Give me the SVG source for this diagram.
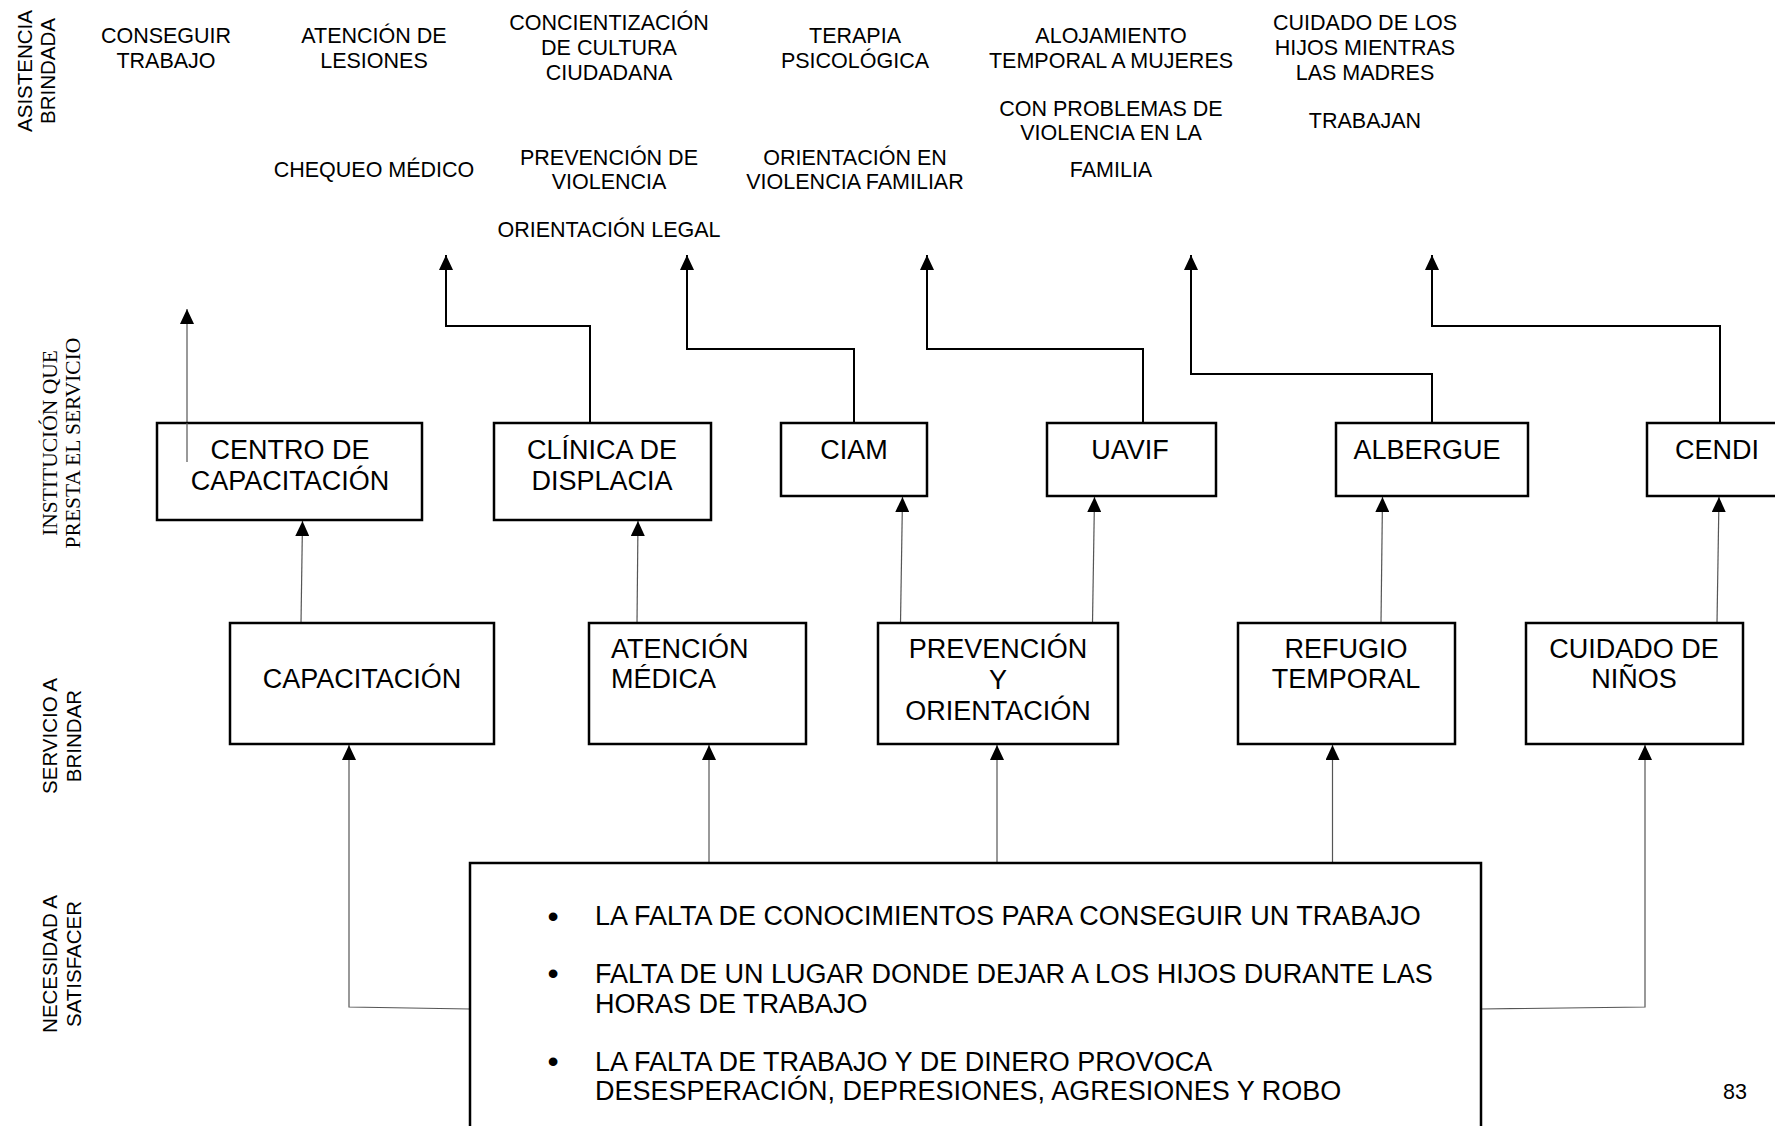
<svg xmlns="http://www.w3.org/2000/svg" width="1775" height="1126" viewBox="0 0 1775 1126">
<defs>
<style>
text{font-family:"Liberation Sans",Arial,sans-serif;fill:#000}
.t{font-size:21.5px;text-anchor:middle}
.side{font-size:20.5px;text-anchor:middle}
.serif{font-family:"Liberation Serif","Times New Roman",serif;font-size:21.5px;text-anchor:middle}
.bt{font-size:27px;text-anchor:middle}
.bl{font-size:27px}
.bul{font-size:32px;text-anchor:middle}
.bx{fill:#fff;stroke:#000;stroke-width:2.5}
.thin{fill:none;stroke:#555;stroke-width:1.2}
.thick{fill:none;stroke:#000;stroke-width:2}
</style>
<marker id="ah" markerUnits="userSpaceOnUse" viewBox="0 0 15 14" markerWidth="15" markerHeight="14" refX="15" refY="7" orient="auto">
<path d="M0,0 L15,7 L0,14 z" fill="#000"/>
</marker>
</defs>
<rect width="1775" height="1126" fill="#fff"/>

<g id="row-labels">
<text class="side" transform="translate(32,71) rotate(-90)"><tspan x="0" y="0">ASISTENCIA</tspan><tspan x="0" y="23">BRINDADA</tspan></text>
<text class="serif" transform="translate(57,443) rotate(-90)"><tspan x="0" y="0">INSTITUCIÓN QUE</tspan><tspan x="0" y="23">PRESTA EL SERVICIO</tspan></text>
<text class="side" transform="translate(57,736) rotate(-90)"><tspan x="0" y="0">SERVICIO A</tspan><tspan x="0" y="24">BRINDAR</tspan></text>
<text class="side" transform="translate(57,964) rotate(-90)"><tspan x="0" y="0">NECESIDAD A</tspan><tspan x="0" y="24">SATISFACER</tspan></text>
</g>

<g id="asistencia-trabajo">
<text class="t"><tspan x="166" y="42.5">CONSEGUIR</tspan><tspan x="166" y="67.5">TRABAJO</tspan></text>
</g>
<g id="asistencia-medica">
<text class="t"><tspan x="374" y="42.5">ATENCIÓN DE</tspan><tspan x="374" y="67.5">LESIONES</tspan></text>
<text class="t" x="374" y="177">CHEQUEO MÉDICO</text>
</g>
<g id="asistencia-prevencion">
<text class="t"><tspan x="609" y="30">CONCIENTIZACIÓN</tspan><tspan x="609" y="55">DE CULTURA</tspan><tspan x="609" y="80">CIUDADANA</tspan></text>
<text class="t"><tspan x="609" y="165">PREVENCIÓN DE</tspan><tspan x="609" y="188.5">VIOLENCIA</tspan></text>
<text class="t" x="609" y="237">ORIENTACIÓN LEGAL</text>
</g>
<g id="asistencia-orientacion">
<text class="t"><tspan x="855" y="42.5">TERAPIA</tspan><tspan x="855" y="67.5">PSICOLÓGICA</tspan></text>
<text class="t"><tspan x="855" y="165">ORIENTACIÓN EN</tspan><tspan x="855" y="188.5">VIOLENCIA FAMILIAR</tspan></text>
</g>
<g id="asistencia-alojamiento">
<text class="t"><tspan x="1111" y="42.5">ALOJAMIENTO</tspan><tspan x="1111" y="67.5">TEMPORAL A MUJERES</tspan></text>
<text class="t"><tspan x="1111" y="116">CON PROBLEMAS DE</tspan><tspan x="1111" y="140">VIOLENCIA EN LA</tspan></text>
<text class="t" x="1111" y="177">FAMILIA</text>
</g>
<g id="asistencia-cuidado">
<text class="t"><tspan x="1365" y="30">CUIDADO DE LOS</tspan><tspan x="1365" y="55">HIJOS MIENTRAS</tspan><tspan x="1365" y="80">LAS MADRES</tspan></text>
<text class="t" x="1365" y="127.5">TRABAJAN</text>
</g>

<g id="connectors">
<path class="thin" d="M187,462 V309" marker-end="url(#ah)"/>
<path class="thick" d="M590,423 V326 H446 V255" marker-end="url(#ah)"/>
<path class="thick" d="M854,423 V349 H687 V255" marker-end="url(#ah)"/>
<path class="thick" d="M1143,423 V349 H927 V255" marker-end="url(#ah)"/>
<path class="thick" d="M1432,423 V374 H1191 V255" marker-end="url(#ah)"/>
<path class="thick" d="M1720,423 V326 H1432 V255" marker-end="url(#ah)"/>

<path class="thin" d="M301,623 L302.5,521" marker-end="url(#ah)"/>
<path class="thin" d="M637,623 L638,521" marker-end="url(#ah)"/>
<path class="thin" d="M900.5,623 L902.5,497" marker-end="url(#ah)"/>
<path class="thin" d="M1092.5,623 L1094.5,497" marker-end="url(#ah)"/>
<path class="thin" d="M1381,623 L1382.5,497" marker-end="url(#ah)"/>
<path class="thin" d="M1717,623 L1719,497" marker-end="url(#ah)"/>

<path class="thin" d="M470,1009 L349,1007 V745" marker-end="url(#ah)"/>
<path class="thin" d="M709,863 V745" marker-end="url(#ah)"/>
<path class="thin" d="M997,863 V745" marker-end="url(#ah)"/>
<path class="thin" d="M1332.5,863 V745" marker-end="url(#ah)"/>
<path class="thin" d="M1481,1009 L1645,1007 V745" marker-end="url(#ah)"/>
</g>

<g id="centro-capacitacion">
<rect class="bx" x="157" y="423" width="265" height="97"/>
<path class="thin" d="M187,462 V423"/>
<text class="bt"><tspan x="290" y="459">CENTRO DE</tspan><tspan x="290" y="489.5">CAPACITACIÓN</tspan></text>
</g>
<g id="clinica-displacia">
<rect class="bx" x="494" y="423" width="217" height="97"/>
<text class="bt"><tspan x="602" y="459">CLÍNICA DE</tspan><tspan x="602" y="489.5">DISPLACIA</tspan></text>
</g>
<g id="ciam">
<rect class="bx" x="781" y="423" width="146" height="73"/>
<text class="bt" x="854" y="459">CIAM</text>
</g>
<g id="uavif">
<rect class="bx" x="1047" y="423" width="169" height="73"/>
<text class="bt" x="1130" y="459">UAVIF</text>
</g>
<g id="albergue">
<rect class="bx" x="1336" y="423" width="192" height="73"/>
<text class="bt" x="1427" y="459">ALBERGUE</text>
</g>
<g id="cendi">
<rect class="bx" x="1647" y="423" width="140" height="73"/>
<text class="bt" x="1717" y="459">CENDI</text>
</g>

<g id="capacitacion">
<rect class="bx" x="230" y="623" width="264" height="121"/>
<text class="bt" x="362" y="688">CAPACITACIÓN</text>
</g>
<g id="atencion-medica">
<rect class="bx" x="589" y="623" width="217" height="121"/>
<text class="bl"><tspan x="611" y="658">ATENCIÓN</tspan><tspan x="611" y="688">MÉDICA</tspan></text>
</g>
<g id="prevencion-orientacion">
<rect class="bx" x="878" y="623" width="240" height="121"/>
<text class="bt"><tspan x="998" y="658">PREVENCIÓN</tspan><tspan x="998" y="689">Y</tspan><tspan x="998" y="720">ORIENTACIÓN</tspan></text>
</g>
<g id="refugio-temporal">
<rect class="bx" x="1238" y="623" width="217" height="121"/>
<text class="bt"><tspan x="1346" y="658">REFUGIO</tspan><tspan x="1346" y="688">TEMPORAL</tspan></text>
</g>
<g id="cuidado-ninos">
<rect class="bx" x="1526" y="623" width="217" height="121"/>
<text class="bt"><tspan x="1634" y="658">CUIDADO DE</tspan><tspan x="1634" y="688">NIÑOS</tspan></text>
</g>

<g id="necesidad">
<rect class="bx" x="470" y="863" width="1011" height="290"/>
<text class="bul" x="553" y="927">•</text>
<text class="bl" x="595" y="925">LA FALTA DE CONOCIMIENTOS PARA CONSEGUIR UN TRABAJO</text>
<text class="bul" x="553" y="984">•</text>
<text class="bl"><tspan x="595" y="983">FALTA DE UN LUGAR DONDE DEJAR A LOS HIJOS DURANTE LAS</tspan><tspan x="595" y="1013">HORAS DE TRABAJO</tspan></text>
<text class="bul" x="553" y="1072">•</text>
<text class="bl"><tspan x="595" y="1071">LA FALTA DE TRABAJO Y DE DINERO PROVOCA</tspan><tspan x="595" y="1100">DESESPERACIÓN, DEPRESIONES, AGRESIONES Y ROBO</tspan></text>
</g>

<text class="t" x="1735" y="1099">83</text>
</svg>
